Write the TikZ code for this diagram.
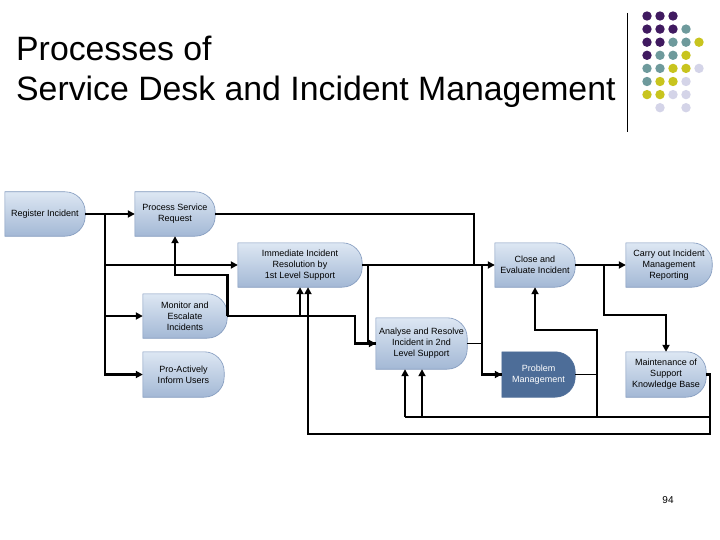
\documentclass[tikz,border=0pt]{standalone}
\usepackage{fontspec}
\setmainfont{Liberation Sans}
\usetikzlibrary{arrows.meta, positioning, backgrounds}
\definecolor{boxtop}{HTML}{DDE7F3}
\definecolor{boxbot}{HTML}{A3B8D5}
\definecolor{boxline}{HTML}{7F97BC}
\definecolor{probfill}{HTML}{4D6D98}
\definecolor{dotP}{HTML}{401A60}
\definecolor{dotT}{HTML}{6E9A9C}
\definecolor{dotY}{HTML}{C8C41E}
\definecolor{dotL}{HTML}{D4D4E8}

\begin{document}
\begin{tikzpicture}[x=1pt, y=-1pt,
    proc/.style={rectangle, minimum height=44pt, align=center, inner sep=0pt, font=\fontsize{9}{11}\selectfont},
    dshape/.style={draw=boxline, line width=0.6pt, top color=boxtop, bottom color=boxbot},
    flow/.style={-{Triangle[length=7pt, width=7pt]}, line width=2.6pt},
    thinflow/.style={-{Triangle[length=7pt, width=7pt]}, line width=1.8pt},
    link/.style={line width=2.6pt},
    thinlink/.style={line width=1.8pt}]
\useasboundingbox (0,0) rectangle (720,540);

% title and decoration
\node[anchor=base west, font=\fontsize{33.8}{40}\selectfont, inner sep=0pt] (title1) at (16,61) {Processes of};
\node[anchor=base west, font=\fontsize{33.8}{40}\selectfont, inner sep=0pt] (title2) at (16,101) {Service Desk and Incident Management};
\draw[line width=0.8pt] (627,13) -- (627,132);
\foreach \c/\r/\col in {0/0/dotP,1/0/dotP,2/0/dotP,
    0/1/dotP,1/1/dotP,2/1/dotP,3/1/dotT,
    0/2/dotP,1/2/dotP,2/2/dotT,3/2/dotT,4/2/dotY,
    0/3/dotP,1/3/dotT,2/3/dotT,3/3/dotY,
    0/4/dotT,1/4/dotT,2/4/dotY,3/4/dotY,4/4/dotL,
    0/5/dotT,1/5/dotY,2/5/dotY,3/5/dotL,
    0/6/dotY,1/6/dotY,2/6/dotL,3/6/dotL,
    1/7/dotL,3/7/dotL}
  \fill[\col] (647+13*\c,16+13.1*\r) circle (4.7pt);

% process boxes
\node[proc, minimum width=80pt] (reg) at (45,214) {Register Incident};
\node[proc, minimum width=80pt] (psr) at (175,214) {Process Service\\Request};
\node[proc, minimum width=124pt] (imm) at (300,265) {Immediate Incident\\Resolution by\\1st Level Support};
\node[proc, minimum width=80pt] (close) at (535,265) {Close and\\Evaluate Incident};
\node[proc, minimum width=86pt] (report) at (669,265) {Carry out Incident\\Management\\Reporting};
\node[proc, minimum width=84pt] (monitor) at (185,316) {Monitor and\\Escalate\\Incidents};
\node[proc, minimum width=81pt, minimum height=45pt] (inform) at (183.5,374.5) {Pro-Actively\\Inform Users};
\node[proc, minimum width=91pt, minimum height=51pt] (analyse) at (421.5,343.5) {Analyse and Resolve\\Incident in 2nd\\Level Support};
\node[proc, minimum width=73pt, minimum height=45pt, text=white] (problem) at (538.5,374.5) {Problem\\Management};
\node[proc, minimum width=80pt, minimum height=45pt] (maint) at (666,374.5) {Maintenance of\\Support\\Knowledge Base};

\begin{scope}[on background layer]
\fill[white] (0,0) rectangle (720,540);
\foreach \n in {reg,psr,imm,close,report,monitor,inform,analyse,maint}
  \path[dshape] (\n.south west) -- (\n.north west) [rounded corners=20pt] -- (\n.north east) -- (\n.south east) [sharp corners] -- cycle;
\path[dshape, draw=probfill, top color=probfill, bottom color=probfill] (problem.south west) -- (problem.north west) [rounded corners=20pt] -- (problem.north east) -- (problem.south east) [sharp corners] -- cycle;
\end{scope}

% junctions
\coordinate (split) at (105,214);
\coordinate (merge) at (474,265);
\coordinate (drop1) at (368,265);
\coordinate (drop2) at (482,265);
\coordinate (fork) at (604,265);
\coordinate (up1) at (300,316);
\coordinate (back) at (597,417);
\coordinate (low1) at (405,417);
\coordinate (low2) at (422,417);
\coordinate (low3) at (710,417);
\coordinate (loop) at (308,434);

% connectors
\draw[thinflow] (reg.east) -- (psr.west);
\draw[link] (split) -- (split |- inform.west);
\draw[flow] (split) |- (imm.west);
\draw[flow] (split) |- (monitor.west);
\draw[flow] (split) |- (inform.west);
\draw[thinlink] (psr.east) -| (merge);
\draw[flow] (imm.east) -- (close.west);
\draw[link] (drop1) |- (analyse.west);
\draw[flow] (monitor.east) -- (355,316) |- (analyse.west);
\draw[flow] (monitor.east) -- ++(0,-41) -| (psr.south);
\draw[flow] (up1) -- (imm.south);
\draw[link] (drop2) |- (problem.west);
\draw[thinlink] (analyse.east) -- (analyse.east -| drop2);
\draw[flow] (drop2 |- problem.west) -- (problem.west);
\draw[flow] (close.east) -- (report.west);
\draw[flow] (fork) -- ++(0,50) -| (maint.north);
\draw[thinlink] (problem.east) -- (problem.east -| back);
\draw[flow] (back) -- ++(0,-87) -| (close.south);
\draw[thinlink] (low3) -- (low1);
\draw[thinflow] (low1) -- (low1 |- analyse.south);
\draw[thinflow] (low2) -- (low2 |- analyse.south);
\draw[flow] (maint.east) -| (loop -| low3) -- (loop) -- (loop |- imm.south);

% page number
\node[font=\fontsize{10}{12}\selectfont] (page) at (668,500) {94};
\end{tikzpicture}
\end{document}
